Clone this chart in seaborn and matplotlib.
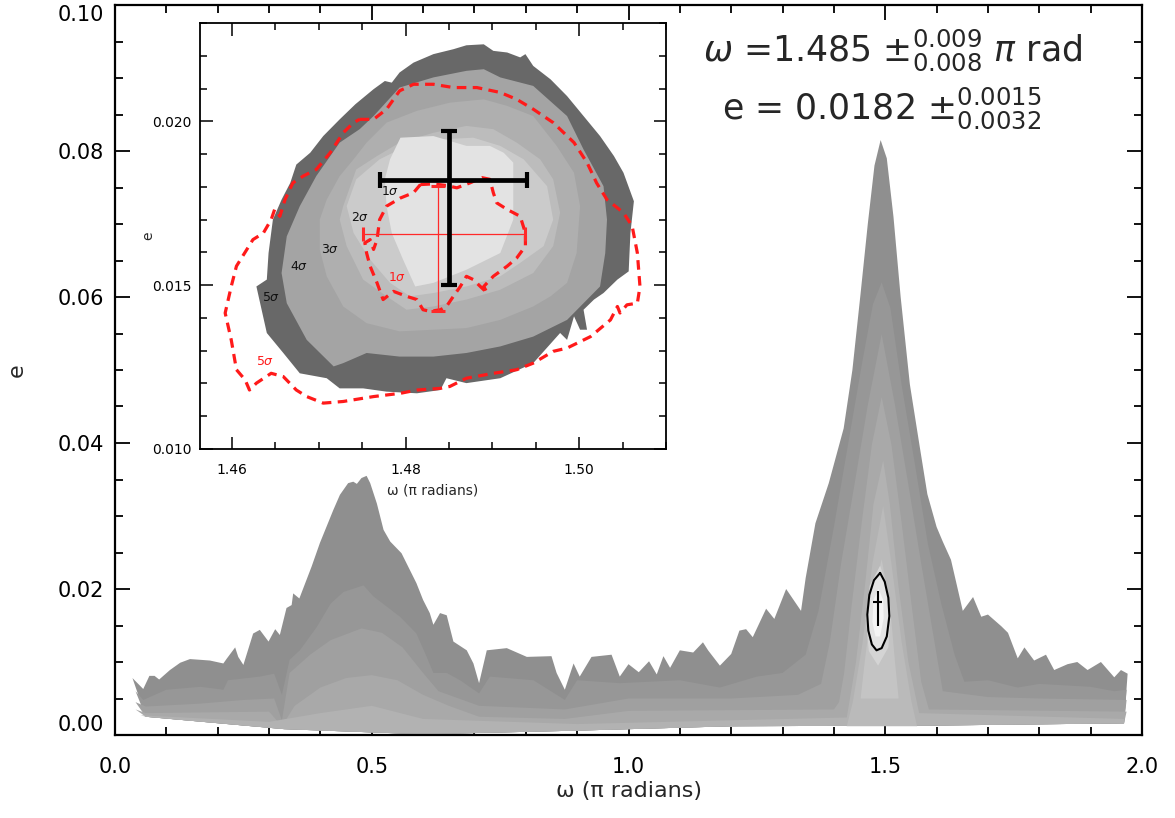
import numpy as np
import matplotlib
matplotlib.use("Agg")
import matplotlib.pyplot as plt
from matplotlib.ticker import MultipleLocator, FormatStrFormatter
import seaborn as sns

# ---------------- main panel data (omega in pi rad, e) ----------------
base_x = [1.965, 1.60, 1.20, 0.90, 0.60, 0.33, 0.06]
base_e = [0.0016, 0.0013, 0.0012, 0.0006, 0.0001, 0.0008, 0.0025]

b1_x = [0.034, 0.055, 0.067, 0.077, 0.086, 0.107, 0.127, 0.146, 0.166, 0.185, 0.211, 0.217, 0.234, 0.240,
        0.250, 0.269, 0.282, 0.299, 0.312, 0.321, 0.334, 0.344, 0.347, 0.359, 0.383, 0.399, 0.425, 0.438,
        0.454, 0.464, 0.471, 0.480, 0.490, 0.497, 0.510, 0.523, 0.536, 0.558, 0.587, 0.600, 0.613, 0.620,
        0.633, 0.646, 0.659, 0.685, 0.698, 0.709, 0.724, 0.763, 0.802, 0.850, 0.860, 0.876, 0.893, 0.905,
        0.928, 0.967, 0.983, 1.000, 1.020, 1.040, 1.055, 1.068, 1.081, 1.100, 1.126, 1.145, 1.155, 1.178,
        1.200, 1.216, 1.229, 1.242, 1.268, 1.284, 1.307, 1.336, 1.345, 1.364, 1.390, 1.419, 1.436, 1.452,
        1.466, 1.479, 1.491, 1.503, 1.516, 1.530, 1.548, 1.566, 1.582, 1.600, 1.612, 1.628, 1.651, 1.671,
        1.687, 1.700, 1.726, 1.739, 1.758, 1.771, 1.790, 1.813, 1.829, 1.855, 1.874, 1.894, 1.920, 1.946,
        1.959, 1.972]
b1_e = [0.0078, 0.0063, 0.0081, 0.0081, 0.0076, 0.0089, 0.0099, 0.0104, 0.0103, 0.0102, 0.0098, 0.0104,
        0.0120, 0.0107, 0.0096, 0.0139, 0.0144, 0.0128, 0.0145, 0.0137, 0.0174, 0.0178, 0.0194, 0.0187,
        0.0231, 0.0263, 0.0308, 0.0329, 0.0345, 0.0347, 0.0344, 0.0352, 0.0355, 0.0345, 0.0317, 0.0281,
        0.0265, 0.0249, 0.0208, 0.0185, 0.0167, 0.0151, 0.0167, 0.0164, 0.0128, 0.0116, 0.0098, 0.0071,
        0.0116, 0.0119, 0.0107, 0.0108, 0.0085, 0.0062, 0.0098, 0.0080, 0.0107, 0.0110, 0.0080, 0.0097,
        0.0086, 0.0101, 0.0083, 0.0108, 0.0092, 0.0116, 0.0113, 0.0127, 0.0116, 0.0095, 0.0111, 0.0143,
        0.0145, 0.0134, 0.0173, 0.0159, 0.0200, 0.0170, 0.0215, 0.0290, 0.0345, 0.0420, 0.0500, 0.0605,
        0.0700, 0.0780, 0.0815, 0.0790, 0.0710, 0.0600, 0.0480, 0.0400, 0.0330, 0.0285, 0.0265, 0.0240,
        0.0170, 0.0189, 0.0162, 0.0165, 0.0149, 0.0140, 0.0105, 0.0120, 0.0102, 0.0110, 0.0089, 0.0097,
        0.0100, 0.0089, 0.0100, 0.0079, 0.0089, 0.0084]

b2_x = [0.040, 0.055, 0.100, 0.166, 0.211, 0.220, 0.282, 0.310, 0.325, 0.340, 0.360, 0.393, 0.420, 0.445,
        0.484, 0.503, 0.529, 0.555, 0.587, 0.607, 0.620, 0.646, 0.672, 0.709, 0.730, 0.815, 0.876, 0.900,
        0.983, 1.100, 1.178, 1.250, 1.300, 1.345, 1.370, 1.400, 1.428, 1.455, 1.476, 1.493, 1.510, 1.532,
        1.558, 1.583, 1.609, 1.635, 1.654, 1.700, 1.758, 1.800, 1.900, 1.946, 1.970]
b2_e = [0.0060, 0.0048, 0.0062, 0.0066, 0.0062, 0.0075, 0.0080, 0.0084, 0.0055, 0.0103, 0.0116, 0.0148,
        0.0180, 0.0196, 0.0205, 0.0190, 0.0176, 0.0162, 0.0139, 0.0107, 0.0085, 0.0085, 0.0075, 0.0057,
        0.0080, 0.0075, 0.0048, 0.0075, 0.0071, 0.0075, 0.0065, 0.0080, 0.0085, 0.0110, 0.0170, 0.0285,
        0.0400, 0.0510, 0.0590, 0.0620, 0.0585, 0.0479, 0.0370, 0.0262, 0.0180, 0.0110, 0.0073, 0.0075,
        0.0065, 0.0070, 0.0066, 0.0060, 0.0062]

b3_x = [0.040, 0.060, 0.166, 0.250, 0.310, 0.325, 0.340, 0.380, 0.420, 0.480, 0.520, 0.560, 0.600, 0.630,
        0.709, 0.876, 1.000, 1.200, 1.330, 1.375, 1.392, 1.414, 1.440, 1.466, 1.493, 1.519, 1.545, 1.570,
        1.596, 1.612, 1.700, 1.800, 1.970]
b3_e = [0.0045, 0.0039, 0.0043, 0.0048, 0.0050, 0.0020, 0.0085, 0.0110, 0.0130, 0.0146, 0.0140, 0.0120,
        0.0085, 0.0060, 0.0040, 0.0035, 0.0050, 0.0050, 0.0055, 0.0070, 0.0127, 0.0235, 0.0343, 0.0452,
        0.0549, 0.0452, 0.0343, 0.0235, 0.0127, 0.0060, 0.0052, 0.0050, 0.0048]

b4_x = [0.040, 0.060, 0.300, 0.325, 0.350, 0.400, 0.450, 0.500, 0.550, 0.600, 0.650, 0.709, 0.876, 1.000,
        1.400, 1.410, 1.420, 1.435, 1.454, 1.474, 1.493, 1.512, 1.532, 1.551, 1.570, 1.585, 1.970]
b4_e = [0.0035, 0.0030, 0.0032, 0.0012, 0.0040, 0.0065, 0.0078, 0.0082, 0.0075, 0.0055, 0.0040, 0.0025,
        0.0022, 0.0033, 0.0035, 0.0045, 0.0085, 0.0180, 0.0290, 0.0398, 0.0463, 0.0398, 0.0290, 0.0180,
        0.0073, 0.0035, 0.0032]

b5_x = [0.050, 0.300, 0.400, 0.500, 0.600, 0.900, 1.425, 1.443, 1.461, 1.477, 1.496, 1.509, 1.525, 1.545,
        1.566, 1.965]
b5_e = [0.0027, 0.0018, 0.0030, 0.0040, 0.0022, 0.0015, 0.0024, 0.0100, 0.0208, 0.0316, 0.0376, 0.0316,
        0.0208, 0.0100, 0.0030, 0.0022]

b6_x = [1.425, 1.437, 1.456, 1.475, 1.496, 1.512, 1.532, 1.551, 1.562]
b6_e = [0.0012, 0.0046, 0.0127, 0.0235, 0.0314, 0.0235, 0.0127, 0.0046, 0.0012]

b7_x = [1.452, 1.460, 1.474, 1.493, 1.509, 1.519, 1.526]
b7_e = [0.0050, 0.0100, 0.0180, 0.0241, 0.0180, 0.0100, 0.0050]

b8_x = [1.490, 1.503, 1.511, 1.506, 1.486, 1.468, 1.462, 1.470]
b8_e = [0.0232, 0.0205, 0.0165, 0.0120, 0.0095, 0.0115, 0.0160, 0.0205]

ell_x = [1.490, 1.499, 1.506, 1.508, 1.503, 1.493, 1.483, 1.474, 1.467, 1.465, 1.469, 1.478]
ell_e = [0.0222, 0.0210, 0.0188, 0.0163, 0.0135, 0.0119, 0.0116, 0.0124, 0.0143, 0.0165, 0.0192, 0.0212]

core_x = [1.487, 1.496, 1.497, 1.490, 1.481, 1.475, 1.477]
core_e = [0.0200, 0.0185, 0.0160, 0.0135, 0.0135, 0.0155, 0.0185]

# best-fit values
omega_best, omega_up, omega_lo = 1.485, 0.009, 0.008
e_best, e_up, e_lo = 0.0182, 0.0015, 0.0032

# ---------------- inset data ----------------
s5_x = [1.4890, 1.4901, 1.4917, 1.4932, 1.4938, 1.4947, 1.4967, 1.4986, 1.5005, 1.5024, 1.5040, 1.5051,
        1.5063, 1.5059, 1.5057, 1.5044, 1.5028, 1.5017, 1.5005, 1.5009, 1.5001, 1.4994, 1.4986, 1.4978,
        1.4947, 1.4909, 1.4870, 1.4847, 1.4840, 1.4813, 1.4778, 1.4751, 1.4724, 1.4709, 1.4678, 1.4659,
        1.4640, 1.4628, 1.4640, 1.4642, 1.4647, 1.4657, 1.4667, 1.4674, 1.4690, 1.4705, 1.4724, 1.4742,
        1.4763, 1.4776, 1.4784, 1.4793, 1.4809, 1.4832, 1.4855, 1.4870]
s5_e = [0.02235, 0.02215, 0.02210, 0.02195, 0.02205, 0.02169, 0.02128, 0.02077, 0.02016, 0.01955, 0.01894,
        0.01843, 0.01756, 0.01659, 0.01542, 0.01517, 0.01476, 0.01456, 0.01425, 0.01364, 0.01364, 0.01405,
        0.01333, 0.01354, 0.01262, 0.01216, 0.01201, 0.01216, 0.01180, 0.01170, 0.01175, 0.01185, 0.01185,
        0.01216, 0.01231, 0.01293, 0.01354, 0.01496, 0.01517, 0.01598, 0.01700, 0.01761, 0.01812, 0.01868,
        0.01904, 0.01955, 0.02006, 0.02052, 0.02098, 0.02123, 0.02118, 0.02149, 0.02179, 0.02205, 0.02220,
        0.02232]

s4_x = [1.4890, 1.4909, 1.4947, 1.4986, 1.5005, 1.5028, 1.5032, 1.5030, 1.5024, 1.5005, 1.4986, 1.4947,
        1.4909, 1.4870, 1.4832, 1.4793, 1.4755, 1.4728, 1.4717, 1.4686, 1.4663, 1.4657, 1.4663, 1.4678,
        1.4697, 1.4724, 1.4747, 1.4763, 1.4793, 1.4832, 1.4870]
s4_e = [0.02159, 0.02134, 0.02108, 0.02016, 0.01914, 0.01802, 0.01700, 0.01598, 0.01496, 0.01445, 0.01394,
        0.01343, 0.01313, 0.01293, 0.01282, 0.01282, 0.01293, 0.01262, 0.01252, 0.01333, 0.01445, 0.01537,
        0.01649, 0.01741, 0.01833, 0.01935, 0.01976, 0.02016, 0.02103, 0.02134, 0.02154]

s3_x = [1.4890, 1.4917, 1.4947, 1.4974, 1.4994, 1.5001, 1.4997, 1.4986, 1.4967, 1.4947, 1.4909, 1.4870,
        1.4832, 1.4793, 1.4755, 1.4728, 1.4709, 1.4701, 1.4701, 1.4709, 1.4724, 1.4740, 1.4755, 1.4778,
        1.4813, 1.4851]
s3_e = [0.02067, 0.02047, 0.02016, 0.01925, 0.01843, 0.01741, 0.01598, 0.01507, 0.01466, 0.01435, 0.01394,
        0.01369, 0.01364, 0.01359, 0.01384, 0.01435, 0.01527, 0.01609, 0.01700, 0.01761, 0.01833, 0.01884,
        0.01935, 0.01996, 0.02032, 0.02057]

s2_x = [1.4901, 1.4928, 1.4955, 1.4970, 1.4978, 1.4970, 1.4947, 1.4909, 1.4870, 1.4832, 1.4801, 1.4778,
        1.4751, 1.4732, 1.4724, 1.4728, 1.4743, 1.4767, 1.4793, 1.4832, 1.4870]
s2_e = [0.01976, 0.01935, 0.01884, 0.01823, 0.01721, 0.01619, 0.01537, 0.01486, 0.01456, 0.01435, 0.01425,
        0.01466, 0.01517, 0.01619, 0.01700, 0.01741, 0.01853, 0.01894, 0.01935, 0.01965, 0.01986]

s1_x = [1.4909, 1.4936, 1.4963, 1.4970, 1.4959, 1.4932, 1.4909, 1.4870, 1.4832, 1.4805, 1.4782, 1.4759,
        1.4740, 1.4732, 1.4743, 1.4770, 1.4801, 1.4840, 1.4878]
s1_e = [0.01925, 0.01884, 0.01802, 0.01700, 0.01619, 0.01568, 0.01527, 0.01496, 0.01476, 0.01466, 0.01507,
        0.01578, 0.01659, 0.01741, 0.01823, 0.01884, 0.01925, 0.01945, 0.01950]

s0_x = [1.4794, 1.4832, 1.4870, 1.4897, 1.4913, 1.4924, 1.4924, 1.4909, 1.4870, 1.4832, 1.4811, 1.4797,
        1.4784, 1.4778, 1.4776, 1.4782]
s0_e = [0.01950, 0.01955, 0.01925, 0.01925, 0.01904, 0.01874, 0.01700, 0.01598, 0.01547, 0.01507, 0.01496,
        0.01578, 0.01659, 0.01741, 0.01823, 0.01884]

red5_x = [1.4747, 1.4763, 1.4778, 1.4793, 1.4809, 1.4832, 1.4855, 1.4882, 1.4909, 1.4928, 1.4947, 1.4970,
          1.4994, 1.5009, 1.5020, 1.5032, 1.5051, 1.5061, 1.5067, 1.5070, 1.5067, 1.5055, 1.5047, 1.5044,
          1.5036, 1.5013, 1.4986, 1.4970, 1.4947, 1.4928, 1.4901, 1.4870, 1.4851, 1.4840, 1.4813, 1.4794,
          1.4763, 1.4728, 1.4705, 1.4686, 1.4674, 1.4659, 1.4645, 1.4628, 1.4620, 1.4615, 1.4605, 1.4599,
          1.4592, 1.4599, 1.4605, 1.4617, 1.4624, 1.4636, 1.4645, 1.4649, 1.4655, 1.4661, 1.4670, 1.4682,
          1.4697, 1.4713, 1.4728, 1.4740, 1.4747]
red5_e = [0.02006, 0.02006, 0.02037, 0.02093, 0.02113, 0.02113, 0.02103, 0.02103, 0.02088, 0.02067, 0.02037,
          0.01996, 0.01935, 0.01874, 0.01812, 0.01761, 0.01721, 0.01680, 0.01598, 0.01496, 0.01445, 0.01440,
          0.01415, 0.01435, 0.01394, 0.01343, 0.01308, 0.01298, 0.01262, 0.01242, 0.01231, 0.01216, 0.01191,
          0.01185, 0.01180, 0.01170, 0.01160, 0.01145, 0.01140, 0.01160, 0.01180, 0.01221, 0.01231, 0.01201,
          0.01180, 0.01211, 0.01242, 0.01333, 0.01415, 0.01496, 0.01558, 0.01609, 0.01639, 0.01659, 0.01700,
          0.01731, 0.01710, 0.01761, 0.01812, 0.01833, 0.01853, 0.01904, 0.01965, 0.01996, 0.02006]

red1_x = [1.4817, 1.4832, 1.4847, 1.4859, 1.4874, 1.4888, 1.4897, 1.4901, 1.4905, 1.4917, 1.4932, 1.4938,
          1.4938, 1.4928, 1.4917, 1.4901, 1.4890, 1.4894, 1.4886, 1.4878, 1.4870, 1.4863, 1.4855, 1.4847,
          1.4840, 1.4828, 1.4820, 1.4813, 1.4801, 1.4786, 1.4774, 1.4767, 1.4759, 1.4755, 1.4753, 1.4759,
          1.4763, 1.4767, 1.4770, 1.4778, 1.4794, 1.4809, 1.4817]
red1_e = [0.01807, 0.01809, 0.01804, 0.01797, 0.01812, 0.01828, 0.01823, 0.01782, 0.01751, 0.01731, 0.01710,
          0.01659, 0.01619, 0.01583, 0.01558, 0.01527, 0.01496, 0.01476, 0.01496, 0.01517, 0.01527, 0.01496,
          0.01466, 0.01435, 0.01425, 0.01420, 0.01425, 0.01456, 0.01466, 0.01481, 0.01456, 0.01507, 0.01558,
          0.01598, 0.01629, 0.01639, 0.01609, 0.01639, 0.01700, 0.01741, 0.01766, 0.01782, 0.01807]

# alternative (red) solution cross
red_best_w, red_w_lo, red_w_up = 1.4837, 0.0086, 0.0101
red_best_e, red_e_lo, red_e_up = 0.01656, 0.00236, 0.00146

sig_labels = ["1$\\sigma$", "2$\\sigma$", "3$\\sigma$", "4$\\sigma$", "5$\\sigma$"]
sig_lab_x = [1.4782, 1.4747, 1.4713, 1.4677, 1.4645]
sig_lab_e = [0.01787, 0.01707, 0.01609, 0.01558, 0.01461]
red_labels = ["1$\\sigma$", "5$\\sigma$"]
red_lab_x = [1.4790, 1.4638]
red_lab_e = [0.01524, 0.01267]

# ---------------- figure ----------------
sns.set_theme(style="ticks")
plt.rcParams["font.family"] = ["DejaVu Sans"]
plt.rcParams["mathtext.fontset"] = "dejavusans"

W, H = 1175, 818
fig = plt.figure(figsize=(W / 100, H / 100), dpi=100)
fig.patch.set_facecolor("white")

ax = fig.add_axes([115 / W, 83 / H, 1027 / W, 730 / H])
ax.set_facecolor("white")
ax.set_xlim(0, 2)
ax.set_ylim(0, 0.1)

main_bands = [(b1_x, b1_e, "#8f8f8f"), (b2_x, b2_e, "#979797"), (b3_x, b3_e, "#a0a0a0"),
              (b4_x, b4_e, "#a9a9a9"), (b5_x, b5_e, "#b2b2b2")]
for bx, be, col in main_bands:
    ax.fill(list(bx) + base_x, list(be) + base_e, color=col, lw=0, zorder=1)
for bx, be, col in [(b6_x, b6_e, "#bababa"), (b7_x, b7_e, "#c4c4c4"), (b8_x, b8_e, "#d4d4d4"),
                    (ell_x, ell_e, "#e4e4e4"), (core_x, core_e, "#f4f4f4")]:
    ax.fill(bx, be, color=col, lw=0, zorder=2)
sns.lineplot(x=ell_x + ell_x[:1], y=ell_e + ell_e[:1], sort=False, estimator=None,
             color="black", lw=1.5, ax=ax, zorder=3)
ax.errorbar([omega_best], [e_best], xerr=[[omega_lo], [omega_up]], yerr=[[e_lo], [e_up]],
            fmt="none", ecolor="black", elinewidth=1.5, capsize=0, zorder=4)

ax.xaxis.set_major_locator(MultipleLocator(0.5))
ax.xaxis.set_minor_locator(MultipleLocator(0.1))
ax.yaxis.set_major_locator(MultipleLocator(0.02))
ax.yaxis.set_minor_locator(MultipleLocator(0.005))
ax.xaxis.set_major_formatter(FormatStrFormatter("%.1f"))
ax.yaxis.set_major_formatter(FormatStrFormatter("%.2f"))
ax.tick_params(which="both", direction="in", top=True, right=True, width=1.3, colors="black",
               labelsize=15)
ax.tick_params(which="major", length=11)
ax.tick_params(which="minor", length=6)
ax.tick_params(axis="x", pad=16)
ax.tick_params(axis="y", pad=8)
for s in ax.spines.values():
    s.set_linewidth(1.6)
    s.set_color("black")
ax.set_xlabel("ω (π radians)", fontsize=16, labelpad=3)
ax.set_ylabel("e", fontsize=16, labelpad=22)
fig.canvas.draw()
for lab in ax.get_yticklabels():
    if lab.get_text() == "0.10":
        lab.set_va("top")
    elif lab.get_text() == "0.00":
        lab.set_va("bottom")

fig.text(893 / W, 1 - 50 / H, r"$\omega$ =1.485 $\pm^{0.009}_{0.008}$ $\pi$ rad",
         ha="center", va="center", fontsize=25)
fig.text(882 / W, 1 - 108 / H, r"e = 0.0182 $\pm^{0.0015}_{0.0032}$",
         ha="center", va="center", fontsize=25)

# ---------------- inset ----------------
axin = fig.add_axes([200 / W, (H - 449) / H, 466 / W, 426 / H])
axin.set_facecolor("white")
axin.set_xlim(1.4563, 1.5100)
axin.set_ylim(0.0100, 0.0230)
for bx, be, col in [(s5_x, s5_e, "#686868"), (s4_x, s4_e, "#a4a4a4"), (s3_x, s3_e, "#afafaf"),
                    (s2_x, s2_e, "#bcbcbc"), (s1_x, s1_e, "#cbcbcb"), (s0_x, s0_e, "#e3e3e3")]:
    axin.fill(bx, be, color=col, lw=0, zorder=1)

for rx, re_ in [(red5_x, red5_e), (red1_x, red1_e)]:
    sns.lineplot(x=rx, y=re_, sort=False, estimator=None, color="#ff1a1a", lw=2.3,
                 linestyle=(0, (3, 2)), ax=axin, zorder=3)

axin.errorbar([red_best_w], [red_best_e], xerr=[[red_w_lo], [red_w_up]],
              yerr=[[red_e_lo], [red_e_up]], fmt="none", ecolor="#ff2a2a", elinewidth=0.9,
              capsize=5, capthick=2.2, zorder=4)
axin.errorbar([omega_best], [e_best], xerr=[[omega_lo], [omega_up]], yerr=[[e_lo], [e_up]],
              fmt="none", ecolor="black", elinewidth=3.4, capsize=6, capthick=3.0, zorder=5)

for t, x, y in zip(sig_labels, sig_lab_x, sig_lab_e):
    axin.text(x, y, t, fontsize=9, ha="center", va="center", color="#111111", zorder=6)
for t, x, y in zip(red_labels, red_lab_x, red_lab_e):
    axin.text(x, y, t, fontsize=9, ha="center", va="center", color="#ff1a1a", zorder=6)

axin.xaxis.set_major_locator(MultipleLocator(0.02))
axin.xaxis.set_minor_locator(MultipleLocator(0.005))
axin.yaxis.set_major_locator(MultipleLocator(0.005))
axin.yaxis.set_minor_locator(MultipleLocator(0.001))
axin.xaxis.set_major_formatter(FormatStrFormatter("%.2f"))
axin.yaxis.set_major_formatter(FormatStrFormatter("%.3f"))
axin.tick_params(which="both", direction="in", top=True, right=True, width=1.1, colors="black",
                 labelsize=10)
axin.tick_params(which="major", length=9)
axin.tick_params(which="minor", length=5)
axin.tick_params(axis="x", pad=10)
axin.tick_params(axis="y", pad=6)
for s in axin.spines.values():
    s.set_linewidth(1.3)
    s.set_color("black")
axin.set_xlabel("ω (π radians)", fontsize=10, labelpad=5)
axin.set_ylabel("e", fontsize=10, labelpad=-2)

fig.savefig("out.png", dpi=100, facecolor="white")
